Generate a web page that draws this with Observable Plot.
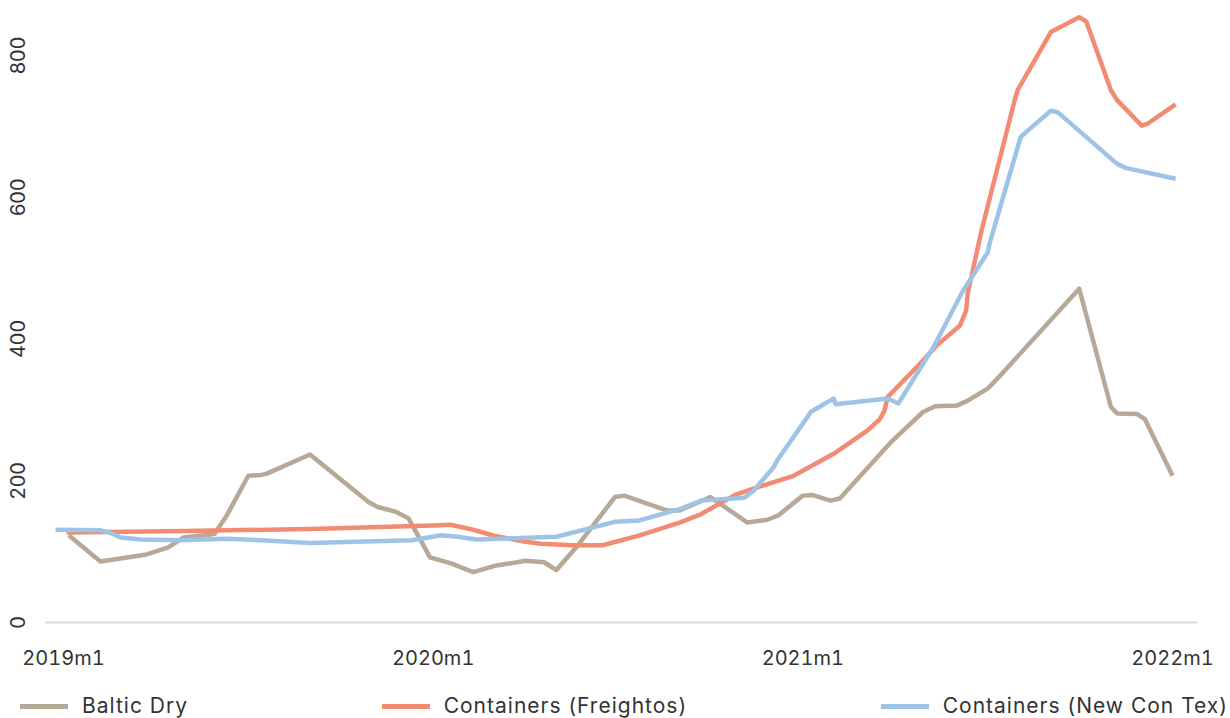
<!DOCTYPE html>
<html><head><meta charset="utf-8">
<script src="https://cdn.jsdelivr.net/npm/d3@7"></script>
<script src="https://cdn.jsdelivr.net/npm/@observablehq/plot@0.6"></script>
<style>
body{margin:0;background:#fff;font-family:Inter, "Noto Sans", sans-serif;}
#legend{display:flex;justify-content:space-between;padding:0 2px 0 20px;margin-top:14px;font-size:21px;letter-spacing:1px;color:#333;line-height:24px;}
.item{display:flex;align-items:center;white-space:nowrap;}
.sw{width:48px;height:5px;margin-right:14px;}
</style></head><body><div id="chart"></div><div id="legend"></div>
<script>
// months since 2019m1
const seriesNames = ["Baltic Dry", "Containers (Freightos)", "Containers (New Con Tex)"];
const seriesColors = ["#b7a898", "#f38b73", "#9dc3e6"];

const balticMonths = [0.17,1.2,2.7,3.4,3.9,4.9,5.3,6.0,6.4,6.6,8.0,9.9,10.2,10.8,11.2,11.9,12.6,13.3,14.0,15.0,15.6,16.0,16.7,17.9,18.2,19.6,20.0,21.0,21.4,22.2,22.85,23.2,24.0,24.3,24.9,25.2,26.85,27.9,28.3,29.0,29.35,30.0,30.4,32.97,34.0,34.2,34.85,35.1,36.0];
const balticValues = [123,86,96,106,120,125,151,207,208,210,237,170,163,156,147,92,83,71,80,87,85,74,109,177,179,158,158,177,165,141,145,151,179,180,172,175,254,297,305,306,313,330,348,471,304,295,294,287,207];

const freightosMonths = [0.1,4.0,8.0,12.0,12.56,13.2,14.0,15.0,15.5,16.5,17.5,18.7,20.0,20.7,21.8,22.4,23.7,25.0,26.1,26.5,26.65,26.75,27.8,28.35,29.1,29.3,29.35,29.8,30.9,30.97,32.05,32.97,33.2,34.0,34.2,35.0,35.2,36.1];
const freightosValues = [127,129,132,137,138,132,122,114,111,109,109,123,141,153,180,189,207,238,271,287,299,318,365,391,419,440,464,553,741,751,833,854,848,751,737,701,704,731];

const conTexMonths = [-0.26,1.2,1.5,1.85,2.5,3.8,5.3,6.4,8.0,11.3,12.25,12.8,13.4,16.0,17.9,18.7,20.0,20.7,21.0,22.1,22.4,23.05,23.17,24.15,24.25,25.0,25.06,26.75,27.1,28.26,29.2,30.0,30.05,31.07,31.3,32.05,32.27,34.2,34.5,36.1];
const conTexValues = [131,130,127,120,117,116,118,116,112,116,123,121,117,121,142,144,160,172,173,176,186,219,229,290,297,316,308,316,309,390,468,522,533,685,694,722,720,647,641,626];

const xTicks = [0, 12, 24, 36];
const xTickLabels = ["2019m1", "2020m1", "2021m1", "2022m1"];
const yTicks = [0, 200, 400, 600, 800];

const rows = [];
[[balticMonths, balticValues], [freightosMonths, freightosValues], [conTexMonths, conTexValues]].forEach(([ms, vs], i) => {
  ms.forEach((m, j) => rows.push({series: seriesNames[i], m, v: vs[j]}));
});

const chart = Plot.plot({
  width: 1230,
  height: 680,
  marginLeft: 45,
  marginRight: 33,
  marginTop: 5,
  marginBottom: 58,
  style: {fontSize: "20px", fontFamily: "Inter, 'Noto Sans', sans-serif", color: "#333", background: "#fff"},
  x: {domain: [-0.584, 36.81], axis: null},
  y: {domain: [0, 870.5], axis: null},
  color: {domain: seriesNames, range: seriesColors},
  marks: [
    Plot.ruleY([0], {stroke: "#d9d9d9", strokeWidth: 2}),
    Plot.axisX({ticks: xTicks, tickFormat: (d) => xTickLabels[xTicks.indexOf(d)], tickSize: 0, tickPadding: 28, fill: "#333", fontSize: 20, label: null}),
    Plot.text(yTicks, {y: (d) => d, text: (d) => String(d), frameAnchor: "left", dx: -27, rotate: -90, textAnchor: "middle", lineAnchor: "middle", fontSize: 20, fill: "#333"}),
    Plot.line(rows, {x: "m", y: "v", z: "series", stroke: "series", strokeWidth: 4.5, curve: "linear", strokeLinejoin: "round", strokeLinecap: "butt"})
  ]
});
document.getElementById("chart").appendChild(chart);

const legend = document.getElementById("legend");
seriesNames.forEach((n, i) => {
  const item = document.createElement("div");
  item.className = "item";
  const sw = document.createElement("span");
  sw.className = "sw";
  sw.style.background = seriesColors[i];
  const t = document.createElement("span");
  t.textContent = n;
  item.appendChild(sw); item.appendChild(t);
  legend.appendChild(item);
});
</script>
</body></html>
